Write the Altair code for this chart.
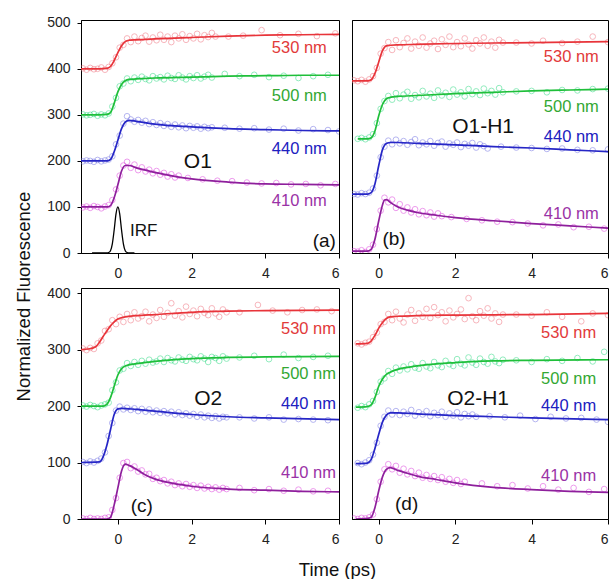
import altair as alt
import pandas as pd

FONT = "Liberation Sans"
SERIES = ["530 nm", "500 nm", "440 nm", "410 nm"]
LINE_COLORS = ["#e8343a", "#1fbf3a", "#2626c6", "#8e1f9c"]
DOT_COLORS = ["#f27a86", "#39dd8a", "#7a7ae6", "#e04ae0"]
TEXT_COLORS = ["#e23a3a", "#33a833", "#2020c0", "#9a32a6"]

# ---------------- shared dense time grids ----------------
DENSE_AC = [-0.95, -0.85, -0.75, -0.65, -0.55, -0.45, -0.35, -0.25, -0.15, -0.05,
            0.05, 0.15, 0.25, 0.35, 0.45, 0.55, 0.65, 0.75, 0.85, 0.95,
            1.05, 1.15, 1.25, 1.35, 1.45, 1.55, 1.65, 1.75, 1.85, 1.95,
            2.05, 2.15, 2.25, 2.35, 2.45, 2.55, 2.65, 2.75, 2.85, 2.95]
DENSE_BD = [-0.65, -0.55, -0.45, -0.35, -0.25, -0.15, -0.05, 0.05, 0.15, 0.25,
            0.35, 0.45, 0.55, 0.65, 0.75, 0.85, 0.95, 1.05, 1.15, 1.25,
            1.35, 1.45, 1.55, 1.65, 1.75, 1.85, 1.95, 2.05, 2.15, 2.25,
            2.35, 2.45, 2.55, 2.65, 2.75, 2.85, 2.95, 3.05, 3.15, 3.25]

# ---------------- panel (a) O1 ----------------
A530_FIT_T = [-1, -0.5, -0.3, -0.2, -0.1, 0, 0.1, 0.2, 0.3, 0.5, 1, 2, 3, 4, 5, 6]
A530_FIT_V = [400, 400, 401, 405, 418, 435, 450, 459, 462, 463, 465, 468, 471, 473, 474, 475]
A530_DOT_V = [401, 398, 402, 399, 400, 403, 398, 404, 412, 425, 446, 452, 466, 458, 470, 460, 467, 472,
              459, 468, 462, 474, 463, 470, 458, 472, 466, 475, 463, 471, 466, 476, 464, 473, 469, 478, 470]
A530_SP_T = [3.0, 3.4, 3.9, 4.4, 4.9, 5.4, 5.9]
A530_SP_V = [470, 472, 484, 473, 476, 471, 477]

A500_FIT_T = [-1, -0.5, -0.3, -0.2, -0.1, 0, 0.1, 0.2, 0.3, 0.5, 1, 2, 3, 4, 5, 6]
A500_FIT_V = [300, 300, 301, 305, 325, 350, 366, 374, 377, 378, 380, 382, 384, 385, 386, 386]
A500_DOT_V = [301, 299, 300, 302, 298, 301, 299, 303, 318, 337, 362, 368, 379, 373, 381, 376, 383, 378,
              375, 384, 379, 382, 377, 385, 380, 378, 386, 381, 377, 384, 380, 386, 379, 383, 387, 381]
A500_SP_T = [2.9, 3.3, 3.7, 4.1, 4.5, 4.9, 5.3, 5.7]
A500_SP_V = [389, 384, 387, 382, 385, 380, 384, 387]

A440_FIT_T = [-1, -0.5, -0.3, -0.2, -0.1, 0, 0.1, 0.2, 0.3, 0.5, 1, 2, 3, 4, 5, 6]
A440_FIT_V = [200, 200, 200, 203, 220, 245, 270, 284, 288, 286, 280, 274, 270, 268, 266, 265]
A440_DOT_V = [199, 201, 200, 198, 202, 199, 201, 203, 210, 236, 255, 281, 297, 290, 285, 289, 283, 287,
              280, 284, 278, 282, 276, 280, 274, 279, 273, 277, 271, 276, 272, 275, 270, 274, 271, 273]
A440_SP_T = [2.9, 3.3, 3.7, 4.1, 4.5, 4.9, 5.3, 5.7, 6.0]
A440_SP_V = [272, 270, 271, 268, 270, 266, 269, 267, 264]

A410_FIT_T = [-1, -0.5, -0.3, -0.2, -0.1, 0, 0.1, 0.2, 0.3, 0.5, 0.75, 1, 1.5, 2, 3, 4, 5, 6]
A410_FIT_V = [100, 100, 100, 103, 120, 148, 178, 190, 190, 185, 180, 175, 167, 161, 154, 150, 149, 148]
A410_DOT_V = [99, 101, 98, 102, 100, 97, 101, 104, 115, 138, 168, 190, 198, 185, 192, 180, 186, 177,
              181, 173, 178, 170, 174, 166, 171, 164, 168]
A410_SP_T = [1.9, 2.3, 2.7, 3.1, 3.5, 3.9, 4.3, 4.7, 5.1, 5.5, 5.9]
A410_SP_V = [163, 160, 157, 156, 153, 151, 152, 149, 150, 147, 150]

IRF_T = [-0.7, -0.3, -0.25, -0.2, -0.15, -0.1, -0.05, 0, 0.05, 0.1, 0.15, 0.2, 0.25, 0.3, 0.45]
IRF_V = [0, 0, 1, 5, 20, 50, 85, 100, 85, 50, 20, 5, 1, 0, 0]

# ---------------- panel (b) O1-H1 ----------------
B530_FIT_T = [-0.7, -0.3, -0.2, -0.1, 0, 0.1, 0.2, 0.5, 1, 2, 3, 4, 5, 6]
B530_FIT_V = [374, 374, 376, 390, 415, 440, 450, 452, 453, 455, 456, 457, 458, 459]
B530_DOT_V = [375, 373, 376, 372, 377, 384, 402, 433, 445, 458, 441, 462, 447, 456, 466, 444, 459, 450,
              468, 446, 455, 461, 443, 464, 452, 470, 447, 458, 449, 466, 453, 444, 462, 455, 468, 450,
              459, 446, 463, 457]
B530_SP_T = [3.6, 4.0, 4.3, 4.8, 5.2, 5.6, 6.0]
B530_SP_V = [457, 455, 461, 456, 459, 470, 458]

B500_FIT_T = [-0.55, -0.3, -0.2, -0.1, 0, 0.1, 0.2, 0.3, 0.5, 1, 2, 3, 4, 5, 6]
B500_FIT_V = [248, 248, 250, 265, 298, 323, 335, 338, 340, 342, 346, 349, 352, 354, 356]
B500_DOT_V = [None, 248, 250, 247, 251, 258, 282, 313, 330, 341, 333, 347, 336, 344, 350, 335, 343, 338,
              352, 340, 346, 337, 353, 342, 348, 339, 355, 344, 349, 340, 356, 345, 351, 343, 357, 347,
              352, 344, 358, 349]
B500_SP_T = [3.6, 4.0, 4.4, 4.8, 5.2, 5.6, 6.0]
B500_SP_V = [351, 352, 349, 354, 353, 356, 357]

B440_FIT_T = [-0.7, -0.3, -0.2, -0.1, 0, 0.1, 0.2, 0.3, 0.5, 1, 2, 3, 4, 5, 6]
B440_FIT_V = [128, 128, 131, 150, 190, 225, 238, 240, 240, 238, 235, 231, 228, 224, 220]
B440_DOT_V = [128, 127, 130, 128, 131, 140, 168, 208, 231, 244, 236, 246, 238, 243, 235, 241, 247, 234,
              240, 236, 243, 233, 239, 242, 231, 238, 235, 240, 230, 237, 233, 239, 229, 236, 232, 227]
B440_SP_T = [3.2, 3.6, 4.0, 4.4, 4.8, 5.2, 5.6, 6.0]
B440_SP_V = [231, 229, 228, 226, 227, 224, 223, 225]

B410_FIT_T = [-0.7, -0.3, -0.2, -0.1, 0, 0.1, 0.15, 0.2, 0.3, 0.5, 0.75, 1, 1.5, 2, 3, 4, 5, 6]
B410_FIT_V = [4, 4, 8, 30, 70, 105, 115, 116, 110, 100, 93, 88, 82, 77, 70, 64, 59, 54]
B410_DOT_V = [4, 3, 6, 2, 8, 18, 52, 92, 120, 110, 116, 98, 106, 92, 99, 88, 95, 84, 91, 82, 88, 79, 86, 80]
B410_SP_T = [1.9, 2.3, 2.7, 3.1, 3.5, 3.9, 4.3, 4.7, 5.1, 5.5, 5.9]
B410_SP_V = [78, 74, 71, 68, 67, 64, 60, 62, 56, 57, 53]

# ---------------- panel (c) O2 ----------------
C530_FIT_T = [-1, -0.8, -0.6, -0.5, -0.4, -0.3, -0.2, -0.1, 0, 0.2, 0.5, 1, 2, 3, 4, 6]
C530_FIT_V = [300, 301, 305, 313, 323, 333, 342, 349, 354, 358, 360, 362, 366, 368, 369, 370]
C530_DOT_V = [302, 299, 303, 301, 311, 316, 333, 336, 352, 345, 358, 349, 363, 352, 366, 355, 359, 367,
              350, 362, 356, 370, 358, 365, 382, 360, 368, 357, 376, 363, 369, 359, 372, 365, 361, 373,
              364, 358, 371, 366]
C530_SP_T = [3.3, 3.8, 4.2, 4.6, 5.0, 5.4, 5.8]
C530_SP_V = [366, 379, 369, 366, 370, 371, 368]

C500_FIT_T = [-1, -0.4, -0.3, -0.2, -0.1, 0, 0.1, 0.2, 0.5, 1, 2, 3, 4, 6]
C500_FIT_V = [200, 200, 203, 215, 235, 255, 266, 271, 275, 279, 284, 286, 287, 288]
C500_DOT_V = [201, 199, 202, 200, 198, 201, 203, 206, 228, 242, 263, 266, 276, 271, 278, 273, 280, 275,
              282, 277, 279, 284, 278, 285, 281, 279, 286, 282, 280, 287, 283, 281, 288, 284, 278, 287,
              285, 280, 288, 284]
C500_SP_T = [3.3, 3.7, 4.1, 4.5, 4.9, 5.3, 5.7]
C500_SP_V = [286, 289, 283, 291, 285, 287, 289]

C440_FIT_T = [-1, -0.5, -0.4, -0.3, -0.2, -0.1, 0, 0.1, 0.5, 1, 2, 3, 4, 6]
C440_FIT_V = [100, 101, 110, 130, 158, 185, 195, 196, 194, 191, 185, 181, 179, 176]
C440_DOT_V = [101, 99, 102, 100, 103, 107, 118, 147, 170, 192, 199, 194, 197, 193, 196, 191, 195, 190,
              194, 189, 192, 188, 191, 187, 190, 185, 189, 184, 187, 183, 186, 181, 185, 180, 183, 179,
              182, 178, 181, 180]
C440_SP_T = [3.3, 3.7, 4.1, 4.5, 4.9, 5.3, 5.7]
C440_SP_V = [180, 178, 180, 176, 177, 176, 175]

C410_FIT_T = [-1, -0.3, -0.2, -0.1, 0, 0.1, 0.2, 0.3, 0.5, 0.75, 1, 1.5, 2, 3, 4, 5, 6]
C410_FIT_V = [0, 0, 3, 25, 55, 85, 97, 95, 88, 78, 71, 63, 58, 53, 51, 49, 48]
C410_DOT_V = [1, 0, 2, 0, 1, 0, 2, 3, 16, 37, 73, 99, 101, 90, 93, 84, 86, 79, 80, 71, 73, 67, 69, 63,
              66, 60, 63, 58, 62, 57, 60, 55, 59, 54, 57, 53, 56, 52, 55, 53]
C410_SP_T = [3.3, 3.7, 4.1, 4.5, 4.9, 5.3, 5.7]
C410_SP_V = [55, 51, 53, 50, 52, 49, 50]

# ---------------- panel (d) O2-H1 ----------------
D530_FIT_T = [-0.6, -0.3, -0.2, -0.1, 0, 0.1, 0.2, 0.3, 0.5, 1, 2, 4, 6]
D530_FIT_V = [310, 311, 315, 325, 338, 348, 355, 358, 359, 360, 361, 362, 364]
D530_DOT_V = [None, 311, 309, 312, 314, 322, 330, 345, 349, 363, 352, 367, 355, 348, 362, 370, 351, 364,
              358, 372, 356, 375, 361, 366, 350, 369, 357, 363, 371, 354, 391, 359, 352, 368, 360, 373,
              355, 364, 349, 362]
D530_SP_T = [3.6, 4.0, 4.4, 4.8, 5.3, 5.6, 6.0]
D530_SP_V = [362, 360, 366, 358, 350, 364, 361]

D500_FIT_T = [-0.6, -0.3, -0.2, -0.1, 0, 0.1, 0.2, 0.3, 0.5, 1, 2, 3, 4, 6]
D500_FIT_V = [198, 199, 202, 215, 235, 248, 256, 260, 265, 271, 277, 280, 281, 282]
D500_DOT_V = [None, 197, 200, 198, 203, 209, 225, 243, 249, 262, 257, 268, 263, 270, 265, 274, 268, 266,
              276, 270, 267, 278, 272, 269, 280, 274, 271, 283, 275, 272, 286, 277, 273, 284, 278, 275,
              287, 279, 276, 282]
D500_SP_T = [3.6, 4.0, 4.4, 4.8, 5.2, 5.6, 5.9]
D500_SP_V = [281, 278, 283, 280, 285, 279, 296]

D440_FIT_T = [-0.6, -0.3, -0.2, -0.1, 0, 0.1, 0.2, 0.3, 0.5, 1, 2, 3, 4, 6]
D440_FIT_V = [98, 99, 105, 125, 150, 172, 184, 188, 188, 186, 183, 181, 179, 176]
D440_DOT_V = [None, 99, 97, 100, 104, 114, 135, 165, 181, 192, 185, 191, 184, 190, 186, 193, 183, 189,
              185, 191, 182, 188, 184, 190, 181, 187, 183, 189, 180, 186, 182, 185, 181]
D440_SP_T = [2.9, 3.3, 3.7, 4.1, 4.5, 4.9, 5.3, 5.7, 6.0]
D440_SP_V = [182, 180, 183, 177, 181, 178, 179, 176, 172]

D410_FIT_T = [-0.6, -0.3, -0.2, -0.1, 0, 0.1, 0.2, 0.3, 0.5, 0.75, 1, 1.5, 2, 3, 4, 5, 6]
D410_FIT_V = [0, 1, 3, 20, 50, 75, 88, 91, 86, 81, 76, 70, 64, 56, 52, 49, 47]
D410_DOT_V = [1, 0, 2, 1, 3, 8, 35, 66, 88, 97, 88, 94, 82, 89, 79, 85, 76, 82, 73, 78, 71, 76, 69, 74,
              66, 71, 64, 69, 62, 66]
D410_SP_T = [2.7, 3.1, 3.5, 3.9, 4.3, 4.7, 5.1, 5.5, 5.9]
D410_SP_V = [63, 58, 60, 54, 58, 52, 55, 48, 53]

# ---------------- annotations ----------------
LABEL_X = {"a": 5.67, "b": 5.76, "c": 5.92, "d": 5.69}
LABEL_Y = {"a": [446, 341, 226, 113], "b": [426, 316, 251, 85],
           "c": [337, 256, 203, 82], "d": [330, 247, 200, 76]}
NAMES = {"a": ("O1", 2.17, 198), "b": ("O1-H1", 2.73, 274),
         "c": ("O2", 2.45, 213), "d": ("O2-H1", 2.6, 213)}
LETTERS = {"a": ("(a)", 5.6, 26), "b": ("(b)", 0.4, 30),
           "c": ("(c)", 0.65, 23), "d": ("(d)", 0.73, 26)}
IRF_LABEL = ("IRF", 0.33, 48)

PANEL_SPECS = {
    "a": (DENSE_AC, [(A530_FIT_T, A530_FIT_V, A530_DOT_V, A530_SP_T, A530_SP_V),
                     (A500_FIT_T, A500_FIT_V, A500_DOT_V, A500_SP_T, A500_SP_V),
                     (A440_FIT_T, A440_FIT_V, A440_DOT_V, A440_SP_T, A440_SP_V),
                     (A410_FIT_T, A410_FIT_V, A410_DOT_V, A410_SP_T, A410_SP_V)]),
    "b": (DENSE_BD, [(B530_FIT_T, B530_FIT_V, B530_DOT_V, B530_SP_T, B530_SP_V),
                     (B500_FIT_T, B500_FIT_V, B500_DOT_V, B500_SP_T, B500_SP_V),
                     (B440_FIT_T, B440_FIT_V, B440_DOT_V, B440_SP_T, B440_SP_V),
                     (B410_FIT_T, B410_FIT_V, B410_DOT_V, B410_SP_T, B410_SP_V)]),
    "c": (DENSE_AC, [(C530_FIT_T, C530_FIT_V, C530_DOT_V, C530_SP_T, C530_SP_V),
                     (C500_FIT_T, C500_FIT_V, C500_DOT_V, C500_SP_T, C500_SP_V),
                     (C440_FIT_T, C440_FIT_V, C440_DOT_V, C440_SP_T, C440_SP_V),
                     (C410_FIT_T, C410_FIT_V, C410_DOT_V, C410_SP_T, C410_SP_V)]),
    "d": (DENSE_BD, [(D530_FIT_T, D530_FIT_V, D530_DOT_V, D530_SP_T, D530_SP_V),
                     (D500_FIT_T, D500_FIT_V, D500_DOT_V, D500_SP_T, D500_SP_V),
                     (D440_FIT_T, D440_FIT_V, D440_DOT_V, D440_SP_T, D440_SP_V),
                     (D410_FIT_T, D410_FIT_V, D410_DOT_V, D410_SP_T, D410_SP_V)]),
}


def build_panel(key, xdom, ydom, yticks, width, height, left, x_title, y_title):
    dense_t, specs = PANEL_SPECS[key]
    dots, lines = [], []
    for i, (ft, fv, dv, st, sv) in enumerate(specs):
        for t, v in zip(dense_t, dv):
            if v is not None:
                dots.append({"t": t, "v": v, "s": SERIES[i], "c": DOT_COLORS[i]})
        for t, v in zip(st, sv):
            dots.append({"t": t, "v": v, "s": SERIES[i], "c": DOT_COLORS[i]})
        for t, v in zip(ft, fv):
            lines.append({"t": t, "v": v, "s": SERIES[i], "c": LINE_COLORS[i]})
    dots = pd.DataFrame(dots)
    lines = pd.DataFrame(lines)

    x_axis = dict(values=[0, 2, 4, 6], format="d", grid=False, tickSize=5, labelPadding=8,
                  labelFontSize=14, labelColor="#222222", domainColor="black", tickColor="black",
                  title=None)
    if x_title:
        x_axis.update(title="Time (ps)", titleFontSize=18.5, titleFontWeight="normal",
                      titleX=256, titleY=56, titleBaseline="alphabetic", titleColor="#111111")
    if left:
        y_axis = dict(values=yticks, grid=False, tickSize=4, labelPadding=7, labelFontSize=14,
                      labelColor="#222222", domainColor="black", tickColor="black", title=None)
        if y_title:
            y_axis.update(title="Normalized Fluorescence", titleFontSize=18.5,
                          titleFontWeight="normal", titleX=-52, titleY=276,
                          titleBaseline="alphabetic", titleAngle=270, titleColor="#111111")
    else:
        y_axis = dict(labels=False, ticks=False, grid=False, domainColor="black", title=None)

    X = alt.X("t:Q", scale=alt.Scale(domain=xdom, nice=False, zero=False), axis=alt.Axis(**x_axis))
    Y = alt.Y("v:Q", scale=alt.Scale(domain=ydom, nice=False, zero=False), axis=alt.Axis(**y_axis))

    pts = alt.Chart(dots).mark_point(filled=False, size=32, strokeWidth=1, opacity=0.55,
                                     clip=True).encode(
        x=X, y=Y, color=alt.Color("c:N", scale=None), detail="s:N")
    lns = alt.Chart(lines).mark_line(interpolate="monotone", strokeWidth=1.7, clip=True).encode(
        x=X, y=Y, color=alt.Color("c:N", scale=None), detail="s:N")

    lab = pd.DataFrame({"t": [LABEL_X[key]] * 4, "v": LABEL_Y[key], "txt": SERIES,
                        "c": TEXT_COLORS})
    labs = alt.Chart(lab).mark_text(align="right", baseline="middle", fontSize=16.5,
                                    font=FONT).encode(
        x=X, y=Y, text="txt:N", color=alt.Color("c:N", scale=None))

    nm = NAMES[key]
    name = alt.Chart(pd.DataFrame({"t": [nm[1]], "v": [nm[2]], "txt": [nm[0]]})).mark_text(
        align="center", baseline="middle", fontSize=21, font=FONT, color="#111111").encode(
        x=X, y=Y, text="txt:N")
    lt = LETTERS[key]
    letter = alt.Chart(pd.DataFrame({"t": [lt[1]], "v": [lt[2]], "txt": [lt[0]]})).mark_text(
        align="center", baseline="middle", fontSize=19, font=FONT, color="#111111").encode(
        x=X, y=Y, text="txt:N")

    layers = [pts, lns, labs, name, letter]
    if key == "a":
        irf = alt.Chart(pd.DataFrame({"t": IRF_T, "v": IRF_V})).mark_line(
            interpolate="monotone", color="black", strokeWidth=1.3).encode(x=X, y=Y)
        irf_lab = alt.Chart(pd.DataFrame({"t": [IRF_LABEL[1]], "v": [IRF_LABEL[2]],
                                          "txt": [IRF_LABEL[0]]})).mark_text(
            align="left", baseline="middle", fontSize=17, font=FONT, color="#111111").encode(
            x=X, y=Y, text="txt:N")
        layers += [irf, irf_lab]
    return alt.layer(*layers).properties(width=width, height=height)


pa = build_panel("a", [-1, 6], [0, 506], [0, 100, 200, 300, 400, 500], 258, 233, True, False, True)
pb = build_panel("b", [-0.7, 6], [0, 506], [], 256, 233, False, False, False)
pc = build_panel("c", [-1, 6], [0, 409], [0, 100, 200, 300, 400], 258, 231, True, True, False)
pd_ = build_panel("d", [-0.7, 6], [0, 409], [], 256, 231, False, False, False)

chart = alt.concat(pa, pb, pc, pd_, columns=2, spacing={"row": 35, "column": 13},
                   bounds="flush").properties(
    padding={"left": 13, "top": 15, "right": 0, "bottom": 0}
).configure(font=FONT).configure_view(stroke="black", strokeWidth=1)

chart.save("out.html", embed_options={"renderer": "svg", "actions": False})
